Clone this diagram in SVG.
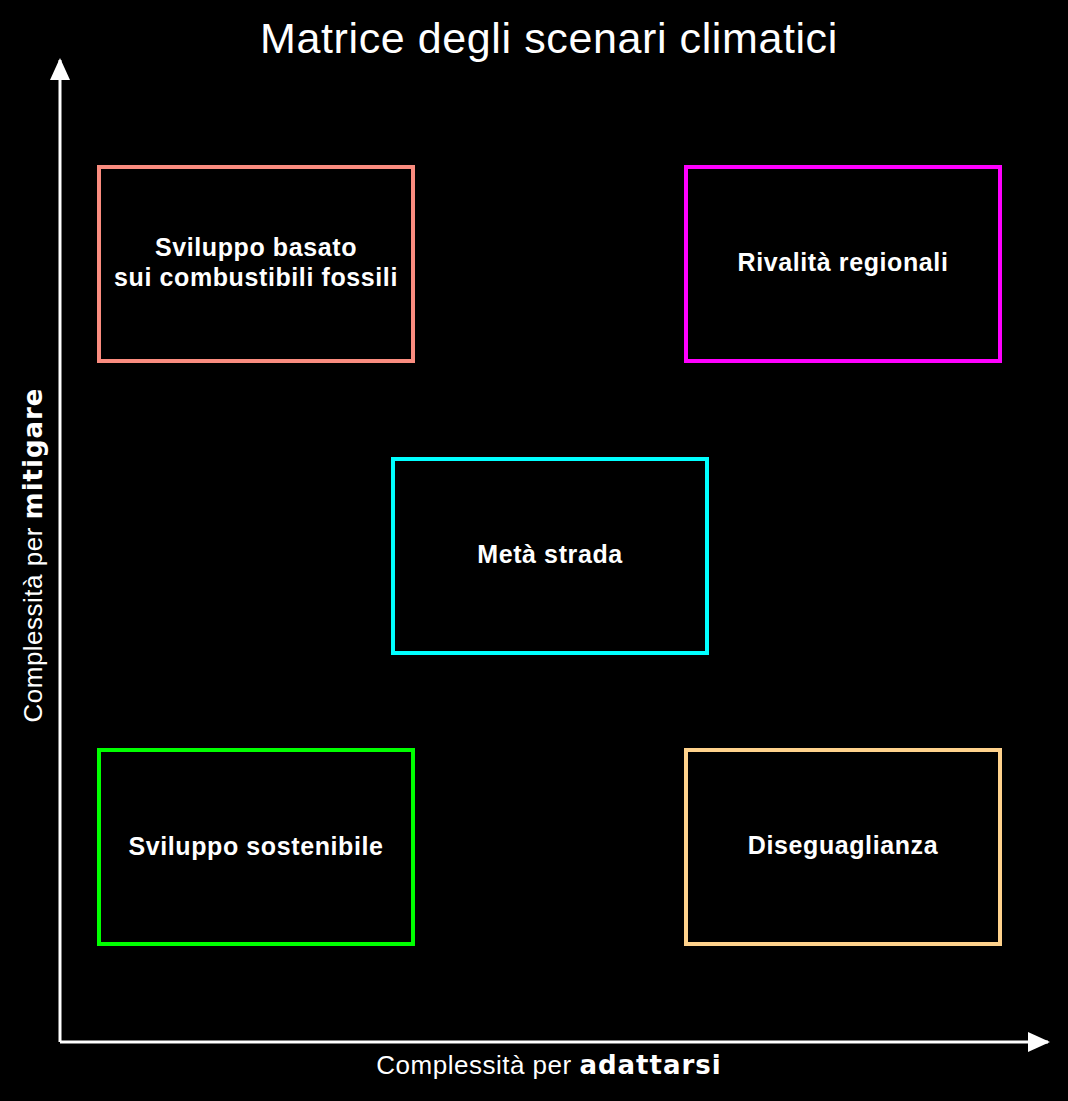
<svg xmlns="http://www.w3.org/2000/svg" width="1068" height="1101" viewBox="0 0 1068 1101">
<style>
.box{fill:#000;stroke-width:4}
.lbl{fill:#fff;font-family:"Liberation Sans",Arial,sans-serif;font-weight:bold;font-size:25px;letter-spacing:0.6px;text-anchor:middle}
.ax{fill:#fff;font-family:"Liberation Sans",Arial,sans-serif;font-size:26px;letter-spacing:0.5px;text-anchor:middle}
.axb{font-family:"DejaVu Sans",sans-serif;font-weight:bold;letter-spacing:1px}
</style>
<defs>
<marker id="arr" markerWidth="10" markerHeight="10" refX="9" refY="5" orient="auto" markerUnits="userSpaceOnUse" viewBox="0 0 10 10">
<path d="M0,0 L10,5 L0,10 z" fill="#fff"/>
</marker>
</defs>
<rect width="1068" height="1101" fill="#000"/>
<text x="549" y="53" fill="#fff" font-family="'Liberation Sans',Arial,sans-serif" font-size="43" letter-spacing="0.6" text-anchor="middle">Matrice degli scenari climatici</text>
<g id="connectors" stroke="#fff" stroke-width="3" fill="none">
<path d="M60,1042 V60"/>
<path d="M60,1042 H1048"/>
<path d="M50,80 L60,58 L70,80 z" fill="#fff" stroke="none"/>
<path d="M1028,1032 L1050,1042 L1028,1052 z" fill="#fff" stroke="none"/>
</g>
<g id="n1"><rect class="box" x="99" y="167" width="314" height="194" stroke="#FA8C7F"/>
<text class="lbl" x="256" y="256">Sviluppo basato</text><text class="lbl" x="256" y="286">sui combustibili fossili</text></g>
<g id="n2"><rect class="box" x="686" y="167" width="314" height="194" stroke="#FF00FF"/>
<text class="lbl" x="843" y="271">Rivalità regionali</text></g>
<g id="n3"><rect class="box" x="393" y="459" width="314" height="194" stroke="#00FFFF"/>
<text class="lbl" x="550" y="563">Metà strada</text></g>
<g id="n4"><rect class="box" x="99" y="750" width="314" height="194" stroke="#00FF00"/>
<text class="lbl" x="256" y="855">Sviluppo sostenibile</text></g>
<g id="n5"><rect class="box" x="686" y="750" width="314" height="194" stroke="#FFD28C"/>
<text class="lbl" x="843" y="854">Diseguaglianza</text></g>
<text class="ax" x="549" y="1074">Complessità per <tspan class="axb">adattarsi</tspan></text>
<text class="ax" transform="translate(42,555) rotate(-90)">Complessità per <tspan class="axb">mitigare</tspan></text>
</svg>
